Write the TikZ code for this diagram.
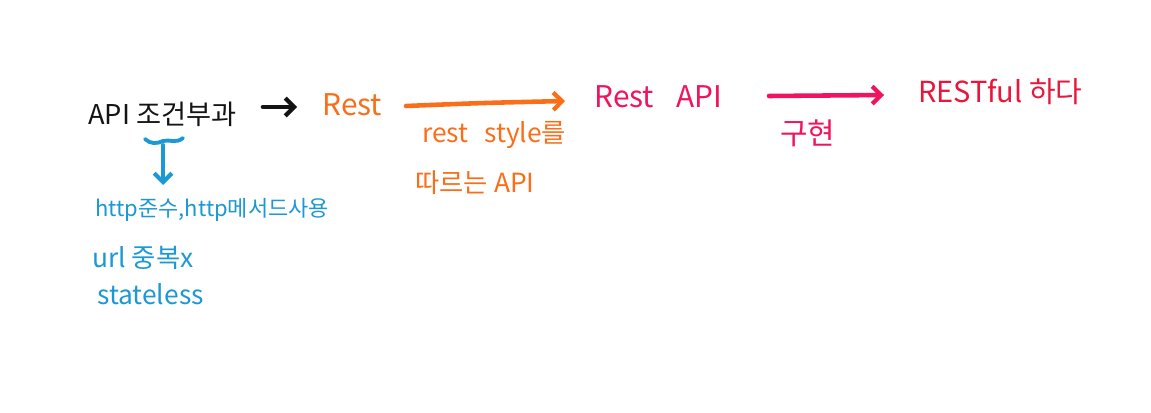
\documentclass[tikz,border=0pt]{standalone}
\usepackage{fontspec}
\setmainfont{Noto Sans CJK KR}
\usetikzlibrary{arrows.meta}
\definecolor{inkblack}{RGB}{20,20,20}
\definecolor{inkblue}{RGB}{28,152,212}
\definecolor{inkorange}{RGB}{250,110,25}
\definecolor{inkpink}{RGB}{240,20,95}
\definecolor{inkred}{RGB}{232,22,58}
\tikzset{
  hand/.style={inner sep=0pt, anchor=west, font=\fontsize{17}{20}\selectfont},
  small/.style={inner sep=0pt, anchor=west, font=\fontsize{15}{18}\selectfont},
  pen/.style={line width=2.6pt, line cap=round, line join=round},
  tip/.style={-{Straight Barb[length=5pt,width=10pt,line width=2.4pt]}}
}
\begin{document}
\begin{tikzpicture}[x=0.02cm,y=-0.02cm]
\useasboundingbox (0,0) rectangle (1151,412);
% black
\node[hand, text=inkblack, font=\fontsize{15.5}{18}\selectfont] (api) at (88,114) {API 조건부과};
\node[hand, text=inkorange] (rest) at (322,105) {Rest};
\coordinate (a1) at (263,107);
\coordinate (a2) at (297,107);
\draw[pen, tip, inkblack] (a1) -- (a2);
% orange
\node[hand, text=inkpink] (restapi) at (594,97) {Rest\hspace{0.75em}API};
\coordinate (o1) at (406,106);
\coordinate (o2) at (565,101);
\draw[pen, tip, inkorange] (o1) .. controls (480,103) .. (o2);
\node[small, text=inkorange] (style) at (422,135) {rest\hspace{0.6em}style를};
\node[small, text=inkorange] (follow) at (415,183) {따르는 API};
% pink
\node[hand, text=inkred, font=\fontsize{16.5}{20}\selectfont] (restful) at (918,92) {RESTful 하다};
\coordinate (p1) at (769,96);
\coordinate (p2) at (884,95);
\draw[pen, tip, inkpink] (p1) -- (p2);
\node[small, text=inkpink, font=\fontsize{17}{20}\selectfont] (impl) at (780,133) {구현};
% blue
\coordinate (b1) at (145,139);
\coordinate (bm) at (163,141);
\coordinate (b2) at (183,138);
\draw[pen, inkblue, line width=2.2pt] (b1) .. controls (150,144) and (157,144) .. (bm) .. controls (169,139) and (176,144) .. (b2);
\coordinate (bs) at (163,145);
\coordinate (bd) at (163,185);
\draw[pen, tip, inkblue, line width=2.2pt] (bs) -- (bd);
\node[small, text=inkblue, font=\fontsize{12.5}{15}\selectfont] (http) at (95,210) {http준수,http메서드사용};
\node[small, text=inkblue] (url) at (92,258) {url 중복x};
\node[small, text=inkblue] (stateless) at (97,294) {stateless};
\end{tikzpicture}
\end{document}
